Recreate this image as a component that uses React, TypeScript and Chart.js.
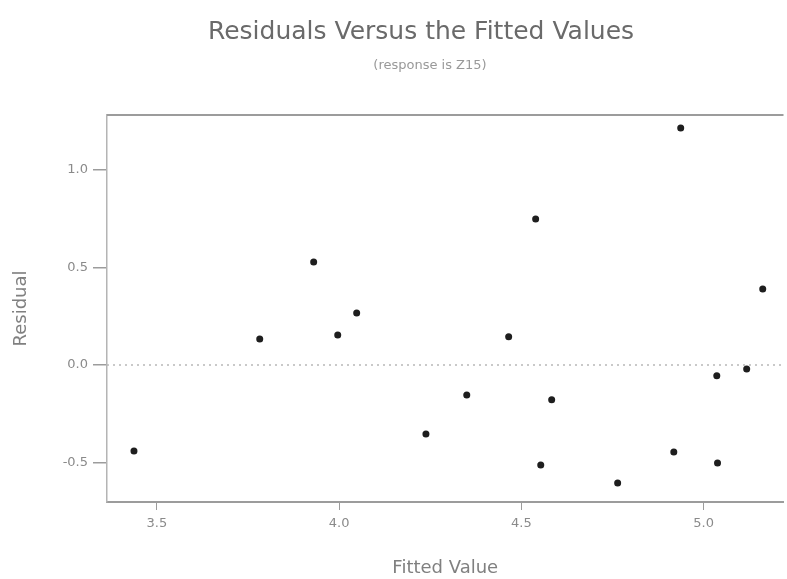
import React, { useEffect, useRef } from "react";
import { Chart, registerables } from "chart.js";

Chart.register(...registerables);

// ---- data ----
const fittedValues = [3.437, 3.782, 3.93, 3.996, 4.048, 4.238, 4.35, 4.465, 4.539, 4.553, 4.583, 4.764, 4.918, 4.937, 5.036, 5.038, 5.118, 5.162];
const residuals = [-0.441, 0.133, 0.528, 0.154, 0.267, -0.354, -0.154, 0.144, 0.749, -0.513, -0.179, -0.605, -0.446, 1.215, -0.056, -0.503, -0.021, 0.39];
const xTicks = [3.5, 4.0, 4.5, 5.0];
const yTicks = [-0.5, 0.0, 0.5, 1.0];
const xRange = [3.363, 5.219];
const yRange = [-0.703, 1.282];
const titleText = "Residuals Versus the Fitted Values";
const subtitleText = "(response is Z15)";
const xTitle = "Fitted Value";
const yTitle = "Residual";

const FONT = "'DejaVu Sans', 'Liberation Sans', sans-serif";

const decorPlugin = {
  id: "decor",
  beforeDatasetsDraw(chart: any) {
    const { ctx, chartArea: a, scales } = chart;
    ctx.save();
    // top frame line
    ctx.strokeStyle = "#9c9c9c";
    ctx.lineWidth = 2;
    ctx.beginPath();
    ctx.moveTo(a.left, a.top);
    ctx.lineTo(a.right, a.top);
    ctx.stroke();
    // dotted zero reference line
    const y0 = scales.y.getPixelForValue(0);
    ctx.strokeStyle = "#b8b8b8";
    ctx.lineWidth = 1.5;
    ctx.setLineDash([2, 4]);
    ctx.beginPath();
    ctx.moveTo(a.left, y0);
    ctx.lineTo(a.right, y0);
    ctx.stroke();
    ctx.restore();
  },
  afterDraw(chart: any) {
    const { ctx } = chart;
    ctx.save();
    ctx.textAlign = "center";
    ctx.textBaseline = "middle";
    ctx.fillStyle = "#6a6a6a";
    ctx.font = `25px ${FONT}`;
    ctx.fillText(titleText, 421, 32);
    ctx.fillStyle = "#999";
    ctx.font = `13px ${FONT}`;
    ctx.fillText(subtitleText, 430, 66);
    ctx.restore();
  },
};

export default function App() {
  const ref = useRef<HTMLCanvasElement | null>(null);

  useEffect(() => {
    document.body.style.margin = "0";
    const canvas = ref.current;
    if (!canvas) return;
    const chart = new Chart(canvas, {
      type: "scatter",
      data: {
        datasets: [
          {
            label: "Residuals",
            data: fittedValues.map((x, i) => ({ x, y: residuals[i] })),
            backgroundColor: "#1e1e1e",
            borderWidth: 0,
            pointRadius: 3.5,
            pointHoverRadius: 3.5,
          },
        ],
      },
      options: {
        responsive: false,
        animation: false,
        layout: { padding: { top: 115, right: 3, bottom: 0, left: 0 } },
        plugins: {
          legend: { display: false },
          tooltip: { enabled: false },
          title: { display: false },
        },
        scales: {
          x: {
            type: "linear",
            min: xRange[0],
            max: xRange[1],
            afterFit: (s: any) => {
              s.height = 77;
            },
            afterBuildTicks: (s: any) => {
              s.ticks = xTicks.map((v) => ({ value: v }));
            },
            grid: {
              drawOnChartArea: false,
              drawTicks: true,
              tickLength: 8,
              color: "#9c9c9c",
              lineWidth: 1,
            },
            border: { display: true, color: "#9c9c9c", width: 2 },
            ticks: {
              color: "#8a8a8a",
              font: { family: FONT, size: 13 },
              padding: 6,
              callback: (v: any) => Number(v).toFixed(1),
            },
            title: {
              display: true,
              text: xTitle,
              color: "#808080",
              font: { family: FONT, size: 18 },
              padding: { top: 4, bottom: 0 },
            },
          },
          y: {
            type: "linear",
            min: yRange[0],
            max: yRange[1],
            afterFit: (s: any) => {
              s.width = 107;
            },
            afterBuildTicks: (s: any) => {
              s.ticks = yTicks.map((v) => ({ value: v }));
            },
            grid: {
              drawOnChartArea: false,
              drawTicks: true,
              tickLength: 14,
              color: "#9c9c9c",
              lineWidth: 1.5,
            },
            border: { display: true, color: "#b4b4b4", width: 1.5 },
            ticks: {
              color: "#8a8a8a",
              font: { family: FONT, size: 13 },
              padding: 5,
              callback: (v: any) => Number(v).toFixed(1),
            },
            title: {
              display: true,
              text: yTitle,
              color: "#808080",
              font: { family: FONT, size: 18 },
              padding: { top: 11, bottom: 0 },
            },
          },
        },
      },
      plugins: [decorPlugin],
    });
    return () => chart.destroy();
  }, []);

  return (
    <div style={{ position: "absolute", left: 0, top: 0, width: 787, height: 579, background: "#fff" }}>
      <canvas ref={ref} width={787} height={579} style={{ display: "block" }} />
    </div>
  );
}
